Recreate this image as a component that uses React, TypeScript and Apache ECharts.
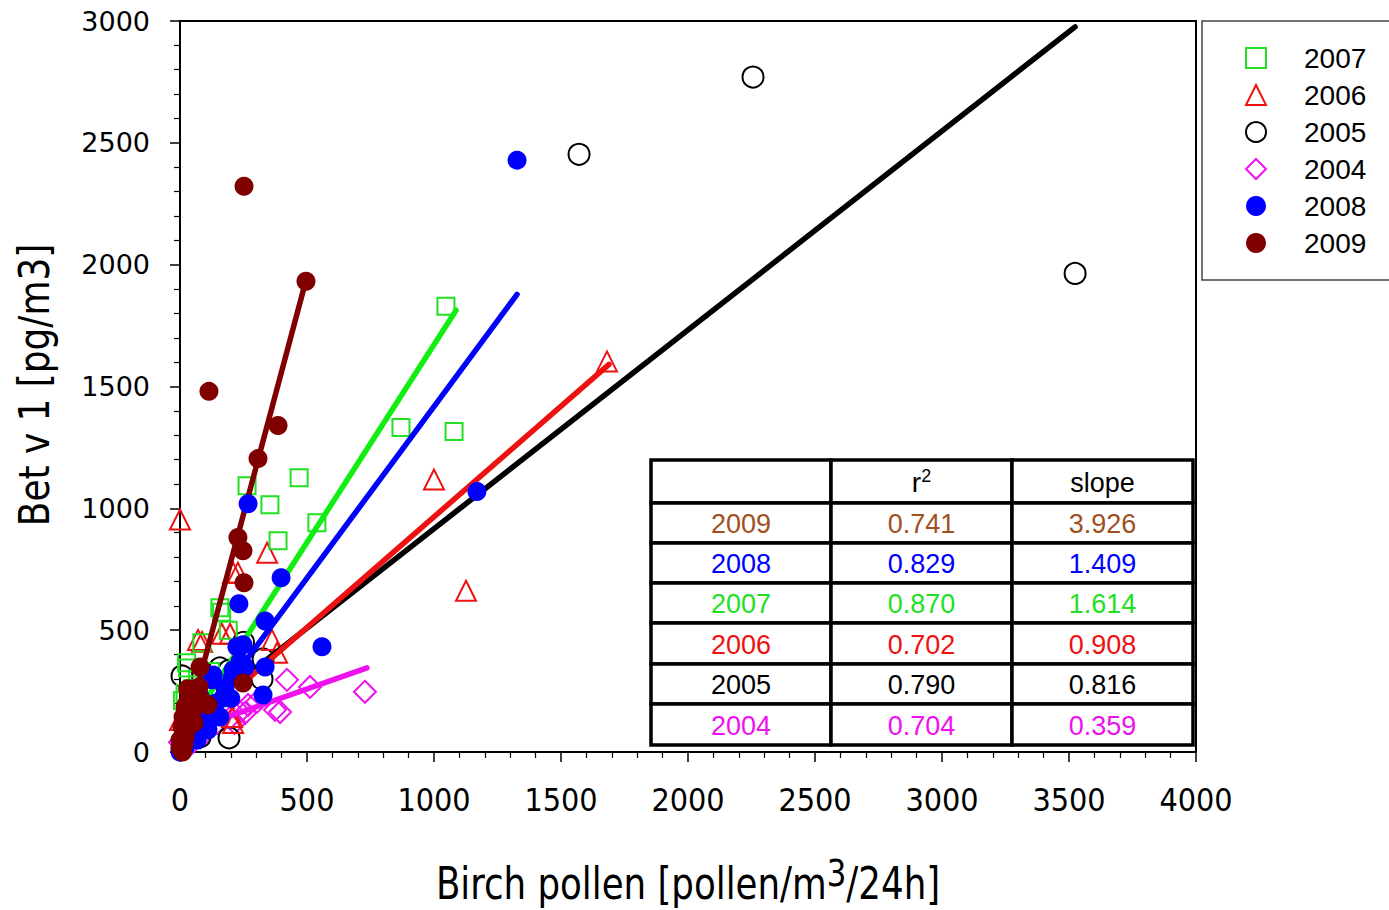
import React, { useEffect, useRef } from "react";
import * as echarts from "echarts";

// ---------- data ----------
const legendOrder = ["2007", "2006", "2005", "2004", "2008", "2009"];

const pts2004: number[][] = [
  [728, 247], [512, 267], [421, 296], [394, 164], [303, 206], [268, 193], [236, 164],
  [197, 140], [146, 119], [256, 160], [374, 173], [215, 120], [170, 180], [100, 110],
  [60, 90], [20, 70], [0, 40], [10, 15], [40, 30], [80, 60],
];
const pts2005: number[][] = [
  [2256, 2770], [1571, 2453], [3524, 1964], [8, 312], [193, 58], [327, 382], [323, 300],
  [157, 345], [193, 335], [250, 450], [79, 62], [20, 40], [40, 90], [60, 130], [100, 160],
];
const pts2006: number[][] = [
  [1681, 1603], [1000, 1118], [1126, 662], [0, 954], [343, 818], [209, 736], [228, 736],
  [362, 460], [382, 407], [71, 460], [87, 452], [165, 485], [197, 485], [209, 119],
  [205, 144], [0, 131], [30, 60], [60, 100], [120, 210],
];
const pts2007: number[][] = [
  [1047, 1829], [870, 1332], [1079, 1315], [469, 1126], [264, 1093], [354, 1015],
  [539, 941], [386, 867], [164, 574], [157, 592], [190, 500], [86, 448], [26, 366],
  [30, 345], [10, 210], [30, 150], [50, 260], [120, 330], [70, 300], [20, 240], [15, 80], [5, 30],
];
const pts2008: number[][] = [
  [1327, 2429], [1169, 1069], [268, 1019], [398, 715], [232, 608], [335, 538], [559, 432],
  [248, 440], [224, 432], [256, 349], [236, 370], [335, 349], [209, 337], [205, 304],
  [126, 296], [130, 316], [177, 263], [169, 222], [327, 234], [157, 144], [79, 226],
  [91, 103], [67, 49], [39, 49], [20, 20], [0, 0], [60, 100], [100, 180], [110, 90], [200, 220],
  [30, 80], [50, 140], [90, 150], [140, 200], [10, 40],
];
const pts2009: number[][] = [
  [252, 2322], [114, 1480], [496, 1932], [386, 1340], [307, 1204], [228, 880], [248, 826],
  [252, 695], [248, 283], [79, 349], [75, 267], [71, 255], [110, 193], [28, 201], [20, 185],
  [12, 144], [8, 103], [0, 49], [0, 20], [40, 120], [20, 60], [50, 170], [10, 0],
  [5, 10], [15, 30], [25, 90], [35, 150], [45, 230], [60, 200], [30, 260], [55, 120], [85, 210],
];

// regression line end points
const fit2004: number[][] = [[118, 119], [736, 345]];
const fit2005: number[][] = [[300, 345], [3524, 2976]];
const fit2006: number[][] = [[250, 284], [1689, 1591]];
const fit2007: number[][] = [[100, 211], [1087, 1813]];
const fit2008: number[][] = [[100, 151], [1327, 1878]];
const fit2009: number[][] = [[0, 0], [496, 1936]];

// table
const tableYears = ["2009", "2008", "2007", "2006", "2005", "2004"];
const tableR2 = ["0.741", "0.829", "0.870", "0.702", "0.790", "0.704"];
const tableSlope = ["3.926", "1.409", "1.614", "0.908", "0.816", "0.359"];
const tableColors = ["#a0501e", "#0000ff", "#22e022", "#ee1111", "#000000", "#ee11ee"];

// ---------- styles ----------
const C = {
  g: "#22e022",
  r: "#ee1111",
  k: "#000000",
  m: "#ee11ee",
  b: "#0000ff",
  dr: "#800000",
};
const narrow = '"DejaVu Sans Condensed", "DejaVu Sans", sans-serif';

export default function App() {
  const ref = useRef<HTMLDivElement>(null);
  useEffect(() => {
    const chart = echarts.init(ref.current!, null, { renderer: "svg" });

    const openScatter = (name: string, data: number[][], symbol: string, size: number, color: string) => ({
      type: "scatter",
      name,
      data,
      symbol,
      symbolSize: size,
      z: 2,
      itemStyle: { color: "rgba(0,0,0,0)", borderColor: color, borderWidth: 2, opacity: 1 },
      emphasis: { disabled: true },
    });
    const filledScatter = (name: string, data: number[][], color: string) => ({
      type: "scatter",
      name,
      data,
      symbol: "circle",
      symbolSize: 19,
      z: 4,
      itemStyle: { color, opacity: 1 },
      emphasis: { disabled: true },
    });
    const fitLine = (name: string, data: number[][], color: string) => ({
      type: "line",
      name,
      data,
      symbol: "none",
      z: 3,
      lineStyle: { color, width: 5.5, cap: "round" },
      emphasis: { disabled: true },
    });

    // table graphic
    const colX = [651, 831, 1012, 1193];
    const rowY = [460, 503, 543, 583, 623, 664, 704, 745];
    const tableEls: any[] = [];
    for (let r = 0; r < rowY.length - 1; r++) {
      for (let c = 0; c < colX.length - 1; c++) {
        tableEls.push({
          type: "rect",
          shape: { x: colX[c], y: rowY[r], width: colX[c + 1] - colX[c], height: rowY[r + 1] - rowY[r] },
          style: { fill: "#fff", stroke: "#000", lineWidth: 3.5 },
          z: 10,
        });
      }
    }
    const cellText = (text: string, c: number, r: number, color: string, rich?: any) => ({
      type: "text",
      x: (colX[c] + colX[c + 1]) / 2,
      y: (rowY[r] + rowY[r + 1]) / 2 + 1,
      z: 11,
      style: {
        text,
        fill: color,
        font: '27px "Liberation Sans", Arial, sans-serif',
        align: "center",
        verticalAlign: "middle",
        rich,
      },
    });
    tableEls.push(
      cellText("{a|r}{s|2}", 1, 0, "#000", {
        a: { fontSize: 28, fontFamily: '"Liberation Sans", Arial', fill: "#000" },
        s: { fontSize: 18, fontFamily: '"Liberation Sans", Arial', fill: "#000", padding: [0, 0, 14, 0] },
      })
    );
    tableEls.push(cellText("slope", 2, 0, "#000"));
    tableYears.forEach((y, i) => {
      tableEls.push(cellText(y, 0, i + 1, tableColors[i]));
      tableEls.push(cellText(tableR2[i], 1, i + 1, tableColors[i]));
      tableEls.push(cellText(tableSlope[i], 2, i + 1, tableColors[i]));
    });

    chart.setOption({
      animation: false,
      backgroundColor: "#ffffff",
      grid: {
        left: 180,
        right: 193,
        top: 21,
        bottom: 158,
        show: true,
        borderColor: "#000",
        borderWidth: 2,
      },
      xAxis: {
        type: "value",
        min: 0,
        max: 4000,
        interval: 500,
        axisLine: { show: true, onZero: false, lineStyle: { color: "#000", width: 2 } },
        axisTick: { show: true, inside: false, length: 10, lineStyle: { color: "#000", width: 1.5 } },
        minorTick: { show: true, splitNumber: 5, length: 6, lineStyle: { color: "#000", width: 1.2 } },
        splitLine: { show: false },
        axisLabel: {
          color: "#000",
          fontSize: 32,
          fontFamily: narrow,
          margin: 32,
          formatter: (v: number) => String(v),
        },
      },
      yAxis: {
        type: "value",
        min: 0,
        max: 3000,
        interval: 500,
        axisLine: { show: true, onZero: false, lineStyle: { color: "#000", width: 2 } },
        axisTick: { show: true, inside: false, length: 10, lineStyle: { color: "#000", width: 1.5 } },
        minorTick: { show: true, splitNumber: 5, length: 6, lineStyle: { color: "#000", width: 1.2 } },
        splitLine: { show: false },
        axisLabel: {
          color: "#000",
          fontSize: 27,
          fontFamily: '"DejaVu Sans", Verdana, sans-serif',
          margin: 30,
          formatter: (v: number) => String(v),
        },
      },
      legend: {
        data: legendOrder,
        orient: "vertical",
        left: 1240,
        top: 38,
        itemWidth: 20,
        itemHeight: 20,
        itemGap: 7,
        selectedMode: false,
        textStyle: {
          fontSize: 28,
          lineHeight: 30,
          color: "#000",
          fontFamily: '"Liberation Sans", Arial, sans-serif',
          padding: [0, 0, 0, 33],
        },
      },
      graphic: [
        {
          type: "rect",
          shape: { x: 1202, y: 21, width: 200, height: 259 },
          style: { fill: "none", stroke: "#444", lineWidth: 1.5 },
        },
        {
          type: "text",
          x: 35,
          y: 385,
          rotation: Math.PI / 2,
          scaleX: 0.95,
          style: {
            text: "Bet v 1 [pg/m3]",
            font: `42px ${narrow}`,
            fill: "#000",
            align: "center",
            verticalAlign: "middle",
          },
        },
        {
          type: "text",
          x: 688,
          y: 884,
          scaleX: 0.9,
          style: {
            text: "{a|Birch pollen [pollen/m}{s|3}{a|/24h]}",
            align: "center",
            verticalAlign: "middle",
            rich: {
              a: { fontSize: 44, fontFamily: narrow, fill: "#000" },
              s: { fontSize: 38, fontFamily: narrow, fill: "#000", padding: [0, 0, 22, 0] },
            },
          },
        },
        { type: "group", children: tableEls },
      ],
      series: [
        openScatter("2004", pts2004, "diamond", 22, C.m),
        openScatter("2005", pts2005, "circle", 21, C.k),
        openScatter("2006", pts2006, "triangle", 20, C.r),
        openScatter("2007", pts2007, "rect", 17, C.g),
        fitLine("fit2004", fit2004, C.m),
        fitLine("fit2005", fit2005, C.k),
        fitLine("fit2006", fit2006, C.r),
        fitLine("fit2007", fit2007, "#11ee11"),
        fitLine("fit2008", fit2008, C.b),
        fitLine("fit2009", fit2009, C.dr),
        filledScatter("2008", pts2008, C.b),
        filledScatter("2009", pts2009, C.dr),
      ],
    });
    return () => chart.dispose();
  }, []);
  return (
    <div
      ref={ref}
      style={{ position: "absolute", left: 0, top: 0, width: 1389, height: 910, background: "#fff" }}
    />
  );
}
